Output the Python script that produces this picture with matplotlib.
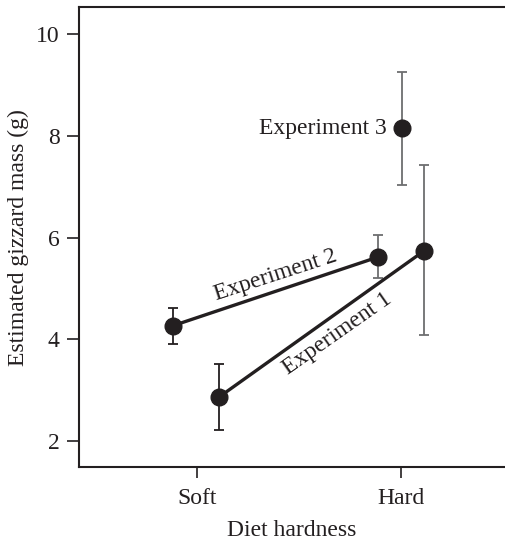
"""Estimated gizzard mass by diet hardness, three experiments."""

import matplotlib
matplotlib.use("Agg")
import matplotlib.pyplot as plt

# x positions (0 = Soft, 1 = Hard), values and error bar ends
categories = ["Soft", "Hard"]

exp1_x = [0.111, 1.114]
exp1_mean = [2.87, 5.74]
exp1_lo = [2.22, 4.09]
exp1_hi = [3.52, 7.42]

exp2_x = [-0.115, 0.89]
exp2_mean = [4.27, 5.62]
exp2_lo = [3.90, 5.20]
exp2_hi = [4.61, 6.06]

exp3_x = [1.005]
exp3_mean = [8.15]
exp3_lo = [7.04]
exp3_hi = [9.26]

y_ticks = [2, 4, 6, 8, 10]

plt.rcParams["font.family"] = ["Liberation Serif", "DejaVu Serif"]
ink = "#231f20"
grey = "#6d6e70"


def draw(ax, xs, mean, lo, hi, connect, bar_colors):
    for x, m, l, h, c in zip(xs, mean, lo, hi, bar_colors):
        ax.errorbar([x], [m], yerr=[[m - l], [h - m]], fmt="none",
                    ecolor=c, elinewidth=1.3, capsize=3.7, capthick=1.3, zorder=2)
    if connect:
        ax.plot(xs, mean, color=ink, lw=2.4, zorder=3)
    ax.plot(xs, mean, "o", color=ink, ms=12, zorder=4)


fig = plt.figure(figsize=(5.05, 5.41), dpi=100)
ax = fig.add_axes([0.1564, 0.1368, 0.8436, 0.850])

draw(ax, exp1_x, exp1_mean, exp1_lo, exp1_hi, True, [ink, grey])
draw(ax, exp2_x, exp2_mean, exp2_lo, exp2_hi, True, [ink, grey])
draw(ax, exp3_x, exp3_mean, exp3_lo, exp3_hi, False, [grey])

ax.text(0.384, 5.25, "Experiment 2", rotation=18, rotation_mode="anchor",
        ha="center", va="center", fontsize=17, color=ink)
ax.text(0.688, 4.10, "Experiment 1", rotation=35, rotation_mode="anchor",
        ha="center", va="center", fontsize=17, color=ink)
ax.text(0.933, 8.15, "Experiment 3", ha="right", va="center",
        fontsize=17, color=ink)

ax.set_xlim(-0.577, 1.51)
ax.set_ylim(1.49, 10.53)
ax.set_xticks([0, 1])
ax.set_xticklabels(categories)
ax.set_yticks(y_ticks)
ax.tick_params(direction="out", length=9, width=1.2, labelsize=17,
               colors=ink, pad=5)
ax.tick_params(axis="x", length=8, pad=7)
ax.spines["right"].set_visible(False)
for s in ax.spines.values():
    s.set_linewidth(1.5)
    s.set_color(ink)

ax.set_xlabel("Diet hardness", fontsize=17, color=ink, labelpad=8)
ax.set_ylabel("Estimated gizzard mass (g)", fontsize=17, color=ink, labelpad=5)

fig.savefig("out.png", dpi=100)
